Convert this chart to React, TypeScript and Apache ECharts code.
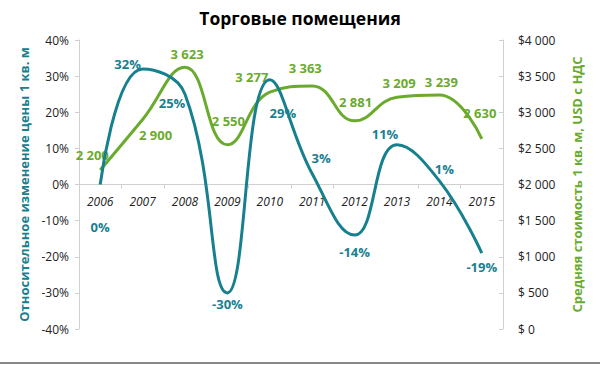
import React, { useEffect, useRef } from "react";
import * as echarts from "echarts";

const years = ["2006", "2007", "2008", "2009", "2010", "2011", "2012", "2013", "2014", "2015"];
const changePct = [0, 32, 25, -30, 29, 3, -14, 11, 1, -19];
const avgPrice = [2200, 2900, 3623, 2550, 3277, 3363, 2881, 3209, 3239, 2630];
const titleText = "Торговые помещения";
const leftAxisName = "Относительное изменение цены 1 кв. м";
const rightAxisName = "Средняя стоимость 1 кв. м, USD с НДС";

const TEAL = "#17808F";
const GREEN = "#6AAB2E";
const FONT = "'Open Sans', 'Noto Sans', sans-serif";

// label placement (styling)
const pctLabelOffsets: [number, number][] = [
  [0, 42], [-15, -5], [-13, 9], [0, 11], [13, 33], [9, -16], [0, 17], [-12, -11], [5, -12], [0, 14],
];
const priceLabelOffsets: [number, number][] = [
  [-8, -15], [13, 16], [2, -13], [1, -24], [-18, -15], [-7, -18], [1, -19], [2, -14], [2, -13], [-2, -26],
];

const fmtThousands = (v: number) => {
  const s = String(Math.round(v));
  return s.length > 3 ? s.slice(0, s.length - 3) + " " + s.slice(-3) : s;
};

export default function App() {
  const ref = useRef<HTMLDivElement>(null);
  useEffect(() => {
    if (!ref.current) return;
    const chart = echarts.init(ref.current, undefined, { renderer: "svg" });
    const labelBase = {
      show: true,
      fontFamily: FONT,
      fontSize: 13,
      fontWeight: "bold" as const,
      opacity: 1,
      align: "center" as const,
      verticalAlign: "middle" as const,
    };
    const pos = (o: [number, number]) => [o[0] + 0.5, o[1] + 0.5];
    chart.setOption({
      animation: false,
      backgroundColor: "#ffffff",
      title: {
        text: titleText,
        left: "center",
        top: 4,
        textStyle: { fontFamily: FONT, fontSize: 17.5, fontWeight: "bold", color: "#000" },
      },
      grid: { left: 79, right: 97, top: 40, bottom: 36 },
      xAxis: {
        type: "category",
        data: years,
        boundaryGap: true,
        position: "bottom",
        offset: -144.5,
        axisLine: { show: true, onZero: false, lineStyle: { color: "#d0d0d0", width: 1 } },
        axisTick: { show: true, alignWithLabel: false, length: 4, lineStyle: { color: "#d0d0d0" } },
        axisLabel: { fontFamily: FONT, fontSize: 12, fontStyle: "italic", color: "#222", margin: 11 },
        splitLine: { show: false },
      },
      yAxis: [
        {
          type: "value",
          min: -40,
          max: 40,
          interval: 10,
          position: "left",
          name: leftAxisName,
          nameLocation: "middle",
          nameGap: 47,
          nameTextStyle: { fontFamily: FONT, fontSize: 13, fontWeight: "bold", color: TEAL },
          axisLine: { show: true, lineStyle: { color: "#d0d0d0" } },
          axisTick: { show: true, length: 4, lineStyle: { color: "#d0d0d0" } },
          axisLabel: { fontFamily: FONT, fontSize: 12, color: "#222", margin: 10, formatter: (v: number) => v + "%" },
          splitLine: { show: false },
        },
        {
          type: "value",
          min: 0,
          max: 4000,
          interval: 500,
          position: "right",
          name: rightAxisName,
          nameLocation: "middle",
          nameGap: 67,
          nameTextStyle: { fontFamily: FONT, fontSize: 13, fontWeight: "bold", color: GREEN },
          axisLine: { show: true, lineStyle: { color: "#d0d0d0" } },
          axisTick: { show: true, inside: true, length: 4, lineStyle: { color: "#d0d0d0" } },
          axisLabel: {
            fontFamily: FONT,
            fontSize: 12,
            color: "#222",
            margin: 15,
            formatter: (v: number) => (v >= 1000 ? "$" + fmtThousands(v) : "$ " + v),
          },
          splitLine: { show: false },
        },
      ],
      series: [
        {
          type: "line",
          yAxisIndex: 1,
          smooth: 0.45,
          showSymbol: true,
          symbol: "circle",
          symbolSize: 1,
          lineStyle: { color: GREEN, width: 3 },
          itemStyle: { color: "rgba(0,0,0,0)" },
          labelLayout: { hideOverlap: false },
          data: avgPrice.map((v, i) => ({
            value: v,
            label: { ...labelBase, color: GREEN, position: pos(priceLabelOffsets[i]), formatter: fmtThousands(v) },
          })),
          z: 2,
        },
        {
          type: "line",
          yAxisIndex: 0,
          smooth: 0.45,
          showSymbol: true,
          symbol: "circle",
          symbolSize: 1,
          lineStyle: { color: TEAL, width: 3 },
          itemStyle: { color: "rgba(0,0,0,0)" },
          labelLayout: { hideOverlap: false },
          data: changePct.map((v, i) => ({
            value: v,
            label: { ...labelBase, color: TEAL, position: pos(pctLabelOffsets[i]), formatter: v + "%" },
          })),
          z: 3,
        },
      ],
      graphic: [
        {
          type: "line",
          shape: { x1: 0, y1: 363, x2: 600, y2: 363 },
          style: { stroke: "#888", lineWidth: 2 },
        },
      ],
    });
    return () => chart.dispose();
  }, []);
  return <div ref={ref} style={{ position: "absolute", left: 0, top: 0, width: 600, height: 365 }} />;
}
